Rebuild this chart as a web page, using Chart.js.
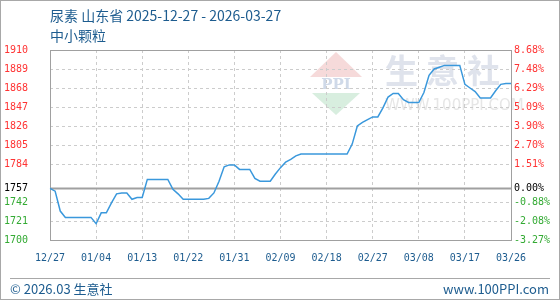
<!DOCTYPE html>
<html><head><meta charset="utf-8">
<script src="https://cdn.jsdelivr.net/npm/chart.js@4.4.0/dist/chart.umd.min.js"></script>
<style>html,body{margin:0;padding:0;background:#fff}#wrap{position:relative;width:560px;height:300px}canvas{display:block}</style>
</head><body><div id="wrap"><canvas id="c" width="560" height="300"></canvas></div>
<script>
const dates = [
"12/27","12/28","12/29","12/30","12/31",
"01/01","01/02","01/03","01/04","01/05","01/06","01/07","01/08","01/09","01/10","01/11","01/12","01/13","01/14","01/15","01/16","01/17","01/18","01/19","01/20","01/21","01/22","01/23","01/24","01/25","01/26","01/27","01/28","01/29","01/30","01/31",
"02/01","02/02","02/03","02/04","02/05","02/06","02/07","02/08","02/09","02/10","02/11","02/12","02/13","02/14","02/15","02/16","02/17","02/18","02/19","02/20","02/21","02/22","02/23","02/24","02/25","02/26","02/27","02/28",
"03/01","03/02","03/03","03/04","03/05","03/06","03/07","03/08","03/09","03/10","03/11","03/12","03/13","03/14","03/15","03/16","03/17","03/18","03/19","03/20","03/21","03/22","03/23","03/24","03/25","03/26","03/27"];
const prices = [
1757,1754,1732,1725,1725,1725,1725,1725,1725,1718,
1730,1730,1741,1751,1752,1752,1745,1747,1747,1767,
1767,1767,1767,1767,1756,1751,1745,1745,1745,1745,
1745,1746,1752,1765,1781,1783,1783,1778,1778,1778,
1768,1765,1765,1765,1773,1780,1786,1789,1793,1795,
1795,1795,1795,1795,1795,1795,1795,1795,1795,1806,
1826,1830,1833,1836,1836,1846,1858,1862,1862,1855,
1852,1852,1852,1863,1882,1889,1891,1893,1893,1893,
1893,1872,1868,1864,1857,1857,1857,1865,1872,1873,
1873];
const xTickLabels = ["12/27","01/04","01/13","01/22","01/31","02/09","02/18","02/27","03/08","03/17","03/26"];
const leftTickValues = [1910,1889,1868,1847,1826,1805,1784,1757,1742,1721,1700];
const rightTickLabels = ["8.68%","7.48%","6.29%","5.09%","3.90%","2.70%","1.51%","0.00%","-0.88%","-2.08%","-3.27%"];
const baseValue = 1757;
const titleText = "尿素 山东省 2025-12-27 - 2026-03-27";
const subtitleText = "中小颗粒";
const footerLeft = "© 2026.03 生意社";
const footerRight = "www.100PPI.com";

const BLUE_TEXT = "#1d5c8f";
const tickFont = {family: "'DejaVu Sans Mono', monospace", size: 10};
function colorFor(v){ return v > baseValue ? "#ff3333" : (v === baseValue ? "#000000" : "#33aa33"); }

const decor = {
  id: "decor",
  beforeDraw(chart){
    const c = chart.ctx, a = chart.chartArea;
    c.save();
    c.fillStyle = "#fff"; c.fillRect(0,0,chart.width,chart.height);
    // watermark logo
    c.fillStyle = "#f6dada";
    c.beginPath(); c.moveTo(336,52); c.lineTo(362,77); c.lineTo(310,77); c.closePath(); c.fill();
    c.fillStyle = "#d8eedf";
    c.beginPath(); c.moveTo(312,93); c.lineTo(360,93); c.lineTo(336,115); c.closePath(); c.fill();
    c.fillStyle = "#cfd9e8";
    c.font = "bold 15px 'DejaVu Serif'"; c.textBaseline = "middle"; c.textAlign = "center";
    c.fillText("PPI", 336, 85);
    c.fillStyle = "#dfe3ec";
    c.font = "bold 33px 'Noto Sans CJK SC'"; c.textAlign = "left";
    c.fillText("生", 385, 70); c.fillText("意", 426, 70); c.fillText("社", 467, 70);
    c.fillStyle = "#e6e6e6";
    c.font = "15px 'DejaVu Sans'";
    c.fillText("WWW.100PPI.COM", 385, 106);
    // title
    c.fillStyle = BLUE_TEXT; c.textAlign = "left"; c.textBaseline = "middle";
    c.font = "14px 'Noto Sans CJK SC'";
    c.fillText(titleText, 50, 16);
    c.fillText(subtitleText, 50, 36);
    // footer
    c.strokeStyle = "#a8a8a8"; c.lineWidth = 1;
    c.beginPath(); c.moveTo(10,278.5); c.lineTo(550,278.5); c.stroke();
    c.font = "13px 'Noto Sans CJK SC'";
    c.fillText(footerLeft, 10, 289);
    c.textAlign = "right";
    c.fillText(footerRight, 549, 289);
    // outer border
    c.strokeStyle = "#a8a8a8";
    c.strokeRect(0.5,0.5,chart.width-1,chart.height-1);
    c.restore();
  },
  beforeDatasetsDraw(chart){
    const c = chart.ctx, a = chart.chartArea;
    const y = chart.scales.y.getPixelForValue(baseValue);
    c.save();
    c.strokeStyle = "#a0a0a0"; c.lineWidth = 2;
    c.beginPath(); c.moveTo(a.left, y); c.lineTo(a.right, y); c.stroke();
    c.lineWidth = 1; c.strokeStyle = "#a0a0a0";
    c.strokeRect(Math.round(a.left)+0.5, Math.round(a.top)+0.5, Math.round(a.right-a.left), Math.round(a.bottom-a.top));
    c.restore();
  }
};

new Chart(document.getElementById("c"), {
  type: "line",
  data: {
    labels: dates,
    datasets: [{
      data: prices,
      borderColor: "#3a98dc",
      borderWidth: 1.5,
      pointRadius: 0,
      tension: 0,
      fill: false
    }]
  },
  options: {
    responsive: false,
    animation: false,
    layout: {padding: {left: 4, top: 50, right: 0, bottom: 0}},
    plugins: {legend: {display: false}, tooltip: {enabled: false}},
    scales: {
      x: {
        type: "category",
        offset: false,
        afterBuildTicks: s => { s.ticks = s.ticks.filter(t => t.value % 9 === 0); },
        afterFit: s => { s.height = 60; },
        grid: {color: "#cccccc", drawTicks: false},
        border: {display: false, dash: [3,3]},
        ticks: {autoSkip: false, maxRotation: 0, padding: 12, color: BLUE_TEXT, font: tickFont,
          callback: (v, i) => xTickLabels[i]}
      },
      y: {
        position: "left",
        min: 1700, max: 1910,
        afterBuildTicks: s => { s.ticks = leftTickValues.map(v => ({value: v})); },
        afterFit: s => { s.width = 46; },
        grid: {color: ctx => (ctx.tick && ctx.tick.value === baseValue) ? "rgba(0,0,0,0)" : "#cccccc", drawTicks: false},
        border: {display: false, dash: [3,3]},
        ticks: {crossAlign: "far", padding: 0, font: tickFont,
          color: ctx => colorFor(ctx.tick.value),
          callback: v => String(v)}
      },
      y2: {
        position: "right",
        min: 1700, max: 1910,
        afterBuildTicks: s => { s.ticks = leftTickValues.map(v => ({value: v})); },
        afterFit: s => { s.width = 49; },
        grid: {display: false, drawTicks: false},
        border: {display: false},
        ticks: {padding: 3, font: tickFont,
          color: ctx => colorFor(ctx.tick.value),
          callback: v => rightTickLabels[leftTickValues.indexOf(v)]}
      }
    }
  },
  plugins: [decor]
});
</script></body></html>
